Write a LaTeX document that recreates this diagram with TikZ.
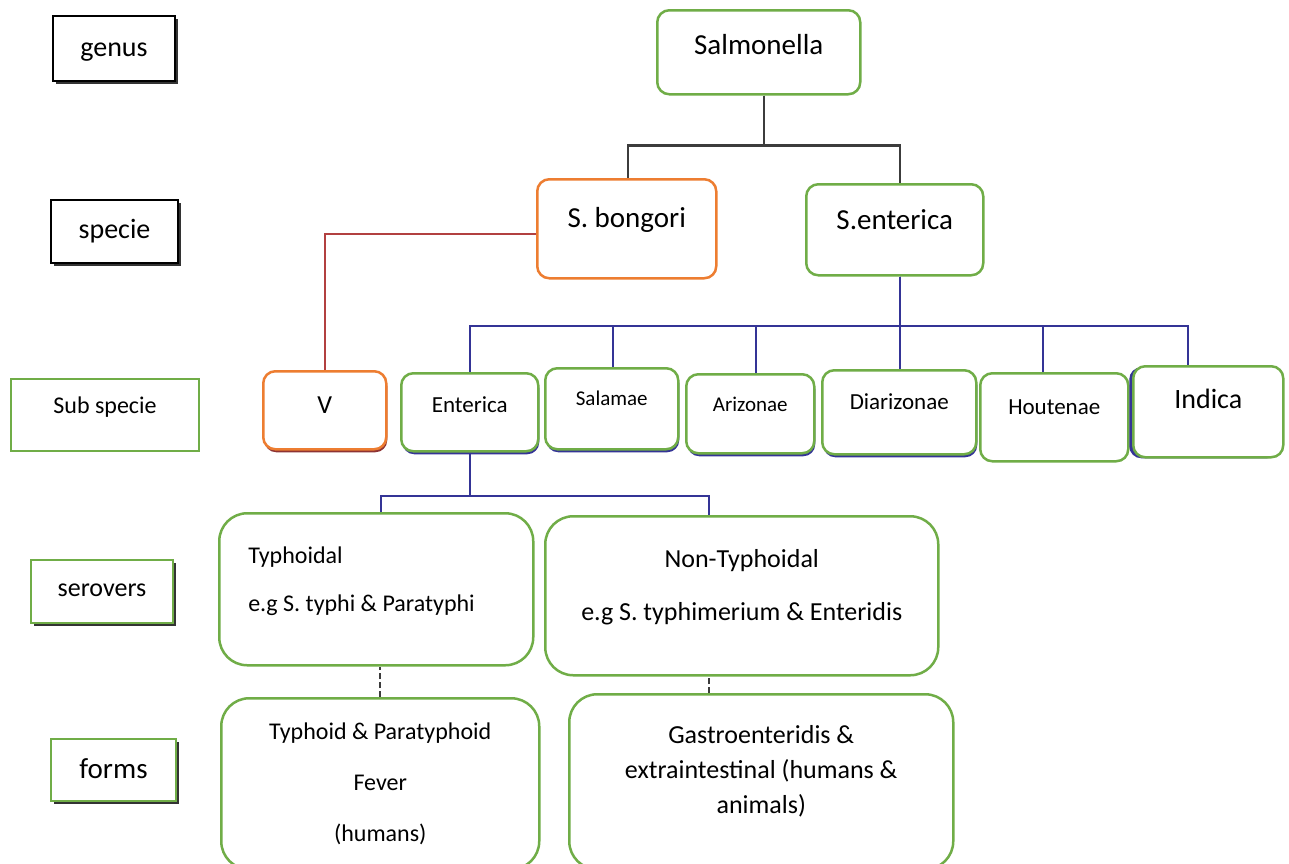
\documentclass[tikz,border=0pt]{standalone}
\usepackage{fontspec}
\setmainfont{Carlito}
\usetikzlibrary{shadows}
\definecolor{boxgreen}{RGB}{112,173,71}
\definecolor{boxorange}{RGB}{237,125,49}
\definecolor{linkblue}{RGB}{52,52,150}
\definecolor{linkred}{RGB}{178,64,64}
\definecolor{linkgray}{RGB}{60,60,60}

\begin{document}
\begin{tikzpicture}[x=0.5pt,y=-0.5pt,
  rank/.style={draw=black,line width=1pt,fill=white,inner sep=0pt,anchor=north west},
  rankshade/.style={drop shadow={shadow xshift=1.5pt,shadow yshift=-1.5pt,fill=black!80,opacity=1}},
  taxon/.style={draw=boxgreen,line width=1.25pt,fill=white,rounded corners=6pt,inner sep=0pt,anchor=north west,align=center},
  bigtaxon/.style={taxon,rounded corners=14pt,align=flush center},
  subshade/.style={drop shadow={shadow xshift=0.5pt,shadow yshift=-1.5pt,fill=linkblue,opacity=1}},
  tree/.style={linkgray,line width=1.2pt},
  bluetree/.style={linkblue,line width=1pt},
  redtree/.style={linkred,line width=1pt},
  dots/.style={linkgray,line width=1pt,dash pattern=on 3pt off 1.5pt}]
  \path[use as bounding box,fill=white] (0,0) rectangle (1289,863);

  \node[rank,rankshade,minimum width=61pt,text height=20pt,text depth=12.5pt,font=\fontsize{14}{17}\selectfont] (genus) at (52,15) {genus};
  \node[rank,rankshade,minimum width=63.5pt,text height=19pt,text depth=12.5pt,font=\fontsize{14}{17}\selectfont] (specie) at (50,199) {specie};
  \node[rank,draw=boxgreen,minimum width=94pt,text height=17pt,text depth=19pt,font=\fontsize{12}{15}\selectfont] (subrank) at (10,378) {Sub specie};
  \node[rank,rankshade,draw=boxgreen,minimum width=71pt,text height=18pt,text depth=13.5pt,font=\fontsize{13}{16}\selectfont] (serovers) at (30,559) {serovers};
  \node[rank,rankshade,draw=boxgreen,minimum width=62.5pt,text height=19.5pt,text depth=11.5pt,font=\fontsize{14.5}{17}\selectfont] (forms) at (50,738) {forms};

  \node[taxon,minimum width=101.5pt,text height=22pt,text depth=20pt,font=\fontsize{14.5}{17}\selectfont] (salmonella) at (656,9) {Salmonella};
  \node[taxon,draw=boxorange,minimum width=89.5pt,text height=24pt,text depth=25.5pt,font=\fontsize{14.5}{17}\selectfont] (bongori) at (536,178) {S. bongori};
  \node[taxon,minimum width=88.5pt,text height=22.5pt,text depth=23pt,font=\fontsize{14.5}{17}\selectfont] (senterica) at (805,183) {S.enterica};

  \node[taxon,draw=boxorange,drop shadow={shadow xshift=0.5pt,shadow yshift=-1.5pt,fill=linkred!80!black,opacity=1},minimum width=61.5pt,text height=21pt,text depth=18pt,font=\fontsize{13}{16}\selectfont] (vsub) at (262,370) {V};
  \node[taxon,subshade,minimum width=68.5pt,text height=19.5pt,text depth=19.5pt,font=\fontsize{11.5}{14}\selectfont] (enterica) at (400,372) {Enterica};
  \node[taxon,subshade,minimum width=66.5pt,text height=18.5pt,text depth=22pt,font=\fontsize{10.5}{13}\selectfont] (salamae) at (544,367) {Salamae};
  \node[taxon,subshade,minimum width=64pt,text height=18.5pt,text depth=21pt,font=\fontsize{10.5}{13}\selectfont] (arizonae) at (685,373) {Arizonae};
  \node[taxon,subshade,minimum width=77pt,text height=19.5pt,text depth=22.5pt,font=\fontsize{11.5}{14}\selectfont] (diarizonae) at (821,369) {Diarizonae};
  \node[taxon,minimum width=74pt,text height=20.5pt,text depth=23.5pt,font=\fontsize{11.5}{14}\selectfont] (houtenae) at (979,372) {Houtenae};
  \node[taxon,drop shadow={shadow xshift=-2pt,shadow yshift=-0.5pt,fill=linkblue,opacity=1},minimum width=75pt,text height=21pt,text depth=24.5pt,font=\fontsize{14}{17}\selectfont] (indica) at (1132,365) {Indica};

  \node[bigtaxon,align=flush left,text width=128pt,inner xsep=14.5pt,text height=25pt,text depth=51pt,font=\fontsize{12}{24}\selectfont] (typhoidal) at (218,512) {Typhoidal\\e.g S. typhi \& Paratyphi};
  \node[bigtaxon,text width=196.5pt,text height=25.5pt,text depth=54pt,font=\fontsize{13}{26.5}\selectfont] (nontyph) at (544,515) {Non-Typhoidal\\e.g S. typhimerium \& Enteridis};

  \node[bigtaxon,text width=159pt,text height=20.5pt,text depth=65pt,font=\fontsize{12}{25.5}\selectfont] (typhforms) at (220,697) {Typhoid \& Paratyphoid\\Fever\\(humans)};
  \node[bigtaxon,text width=192pt,text height=24.5pt,text depth=63pt,font=\fontsize{13}{17.5}\selectfont] (gastro) at (568,693) {Gastroenteridis \&\\extraintestinal (humans \&\\animals)};

  \draw[tree] ([xshift=2.75pt]salmonella.south) -- ++(0,50) -| ([xshift=0.75pt]bongori.north);
  \draw[tree] ([xshift=2.75pt]salmonella.south) -- ++(0,50) -| ([xshift=2.75pt]senterica.north);
  \draw[redtree] ([yshift=-2.75pt]bongori.west) -| (vsub.north);
  \draw[bluetree] ([xshift=2.75pt]senterica.south) -- ++(0,49) -| (enterica.north);
  \draw[bluetree] ([xshift=2.75pt]senterica.south) -- ++(0,49) -| ([xshift=0.75pt]salamae.north);
  \draw[bluetree] ([xshift=2.75pt]senterica.south) -- ++(0,49) -| ([xshift=3pt]arizonae.north);
  \draw[bluetree] ([xshift=2.75pt]senterica.south) -- ++(0,49) -| ([xshift=0.5pt]diarizonae.north);
  \draw[bluetree] ([xshift=2.75pt]senterica.south) -- ++(0,49) -| ([xshift=-5.5pt]houtenae.north);
  \draw[bluetree] ([xshift=2.75pt]senterica.south) -- ++(0,49) -| ([xshift=-10pt]indica.north);
  \draw[bluetree] (enterica.south) -- ++(0,43) -| ([xshift=2.5pt]typhoidal.north);
  \draw[bluetree] (enterica.south) -- ++(0,43) -| ([xshift=-16.25pt]nontyph.north);
  \draw[dots] (typhforms.north) -- (typhforms.north |- typhoidal.south);
  \draw[dots] ([xshift=-26pt]gastro.north) -- ([xshift=-26pt]gastro.north |- nontyph.south);
\end{tikzpicture}
\end{document}
